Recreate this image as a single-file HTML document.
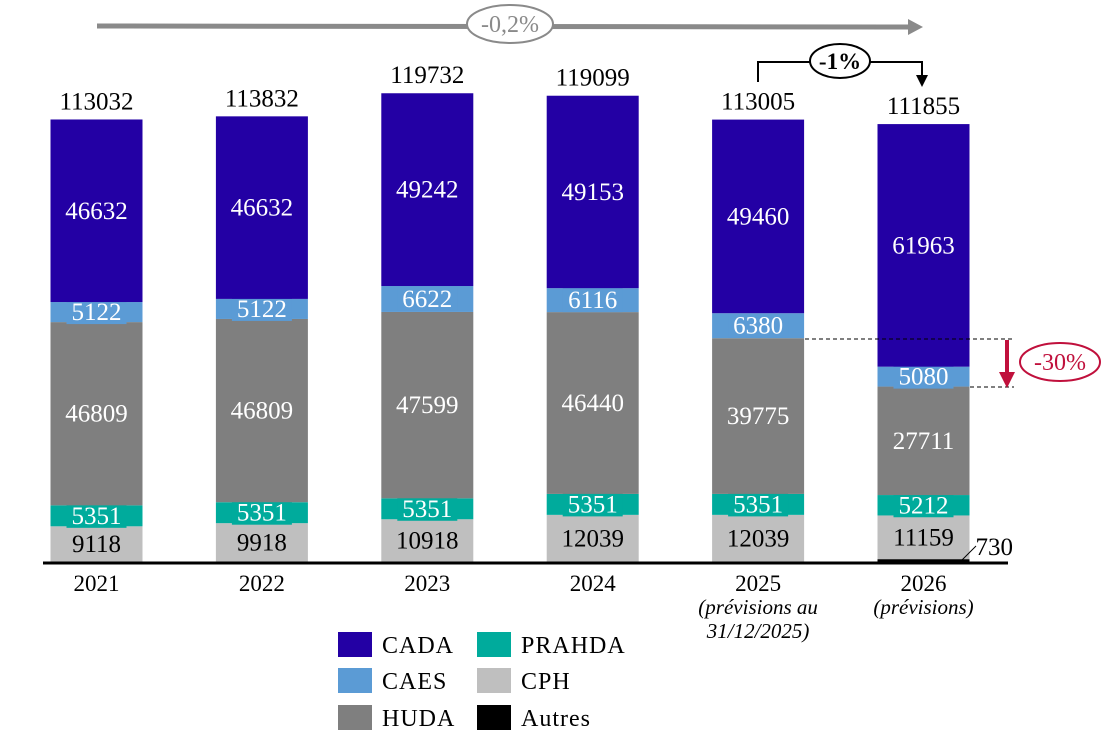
<!DOCTYPE html>
<html><head><meta charset="utf-8"><style>
body{margin:0;background:#fff;}
svg{display:block;font-family:"Liberation Serif",serif;}
</style></head><body>
<svg id="chart" width="1104" height="749" viewBox="0 0 1104 749" xmlns="http://www.w3.org/2000/svg">
<g id="bars"></g>
<g id="annot">
  <line x1="97" y1="26" x2="910" y2="27" stroke="#8a8a8a" stroke-width="5"/>
  <polygon points="908,19 923,27 908,35" fill="#8a8a8a"/>
  <ellipse cx="510" cy="24" rx="43" ry="19" fill="#fff" stroke="#8a8a8a" stroke-width="2"/>
  <text x="510" y="32" font-size="24" text-anchor="middle" fill="#8a8a8a">-0,2%</text>
  <polyline points="758,82 758,62 922,62 922,76" fill="none" stroke="#000" stroke-width="2"/>
  <polygon points="916,75 928,75 922,87" fill="#000"/>
  <ellipse cx="840" cy="61" rx="30" ry="17" fill="#fff" stroke="#000" stroke-width="2"/>
  <text x="840" y="69" font-size="23" font-weight="bold" text-anchor="middle">-1%</text>
  <line x1="805" y1="339" x2="1014" y2="339" stroke="#000" stroke-dasharray="4,3"/>
  <line x1="970" y1="387" x2="1014" y2="387" stroke="#000" stroke-dasharray="4,3"/>
  <line x1="1007" y1="340" x2="1007" y2="374" stroke="#c0103c" stroke-width="4"/>
  <polygon points="999,372 1015,372 1007,388" fill="#c0103c"/>
  <ellipse cx="1060" cy="362" rx="40" ry="19" fill="#fff" stroke="#c0103c" stroke-width="2"/>
  <text x="1060" y="370" font-size="24" text-anchor="middle" fill="#c0103c">-30%</text>
  <line x1="960" y1="562" x2="976" y2="546" stroke="#000" stroke-width="1"/>
</g>
<g id="legend"></g>
</svg>
<script>
const years=["2021","2022","2023","2024","2025","2026"];
const subLabels=[[],[],[],[],["(prévisions au","31/12/2025)"],["(prévisions)"]];
const seriesNames=["Autres","CPH","PRAHDA","HUDA","CAES","CADA"];
const autres=[0,0,0,0,0,730];
const cph=[9118,9918,10918,12039,12039,11159];
const prahda=[5351,5351,5351,5351,5351,5212];
const huda=[46809,46809,47599,46440,39775,27711];
const caes=[5122,5122,6622,6116,6380,5080];
const cada=[46632,46632,49242,49153,49460,61963];
const totals=[113032,113832,119732,119099,113005,111855];
const series=[autres,cph,prahda,huda,caes,cada];
const colors=["#000000","#bfbfbf","#00ab9c","#7f7f7f","#5b9bd5","#2300a4"];
const txtColors=["#000","#000","#fff","#fff","#fff","#fff"];
const NS="http://www.w3.org/2000/svg";
const base=562, k=0.003915, x0=96.5, step=165.4, bw=92;
const y=v=>base-v*k;
const xc=i=>x0+i*step;
const g=document.getElementById("bars");
function mk(tag,attrs,parent){const e=document.createElementNS(NS,tag);for(const a in attrs)e.setAttribute(a,attrs[a]);parent.appendChild(e);return e;}
years.forEach((yr,i)=>{
  let cum=0;
  series.forEach((s,j)=>{
    const v=s[i]; if(!v){return;}
    const r=mk("rect",{x:xc(i)-bw/2,y:y(cum+v),width:bw,height:v*k,fill:colors[j]},g);
    
    
    const mid=y(cum+v/2);
    if(j>0){
      if(v*k<26){
        const bg=mk("rect",{x:xc(i)-30,y:mid-12,width:60,height:24,fill:colors[j]},g);
        
        
      }
      const t=mk("text",{x:xc(i),y:mid+8,"font-size":25,"text-anchor":"middle",fill:txtColors[j]},g);
      t.textContent=v;
      
      
    } else {
      const t=mk("text",{x:xc(i)+52,y:base-7,"font-size":25,"text-anchor":"start",fill:"#000"},g);
      t.textContent=v;
      
      
    }
    cum+=v;
  });
  const tt=mk("text",{x:xc(i),y:y(totals[i])-10,"font-size":25,"text-anchor":"middle"},g);
  tt.textContent=totals[i];
  
  
  const xl=mk("text",{x:xc(i),y:591,"font-size":23,"text-anchor":"middle"},g);
  xl.textContent=yr;
  
  
  subLabels[i].forEach((s,n)=>{
    const sl=mk("text",{x:xc(i),y:614+n*24,"font-size":21,"font-style":"italic","text-anchor":"middle"},g);
    sl.textContent=s;
    
    
  });
});
const ax=mk("line",{x1:43,y1:base+1,x2:1008,y2:base+1,stroke:"#000","stroke-width":3},g);


const lg=document.getElementById("legend");
const legendOrder=[[5,338,632],[2,477,632],[4,338,668],[1,477,668],[3,338,705],[0,477,705]];
legendOrder.forEach(([j,lx,ly])=>{
  const b=mk("rect",{x:lx,y:ly,width:34,height:25,fill:colors[j]},lg);
  
  
  const t=mk("text",{x:lx+44,y:ly+21,"font-size":24,"letter-spacing":"1"},lg);
  t.textContent=seriesNames[j];
  
  
});
</script>
</body></html>
